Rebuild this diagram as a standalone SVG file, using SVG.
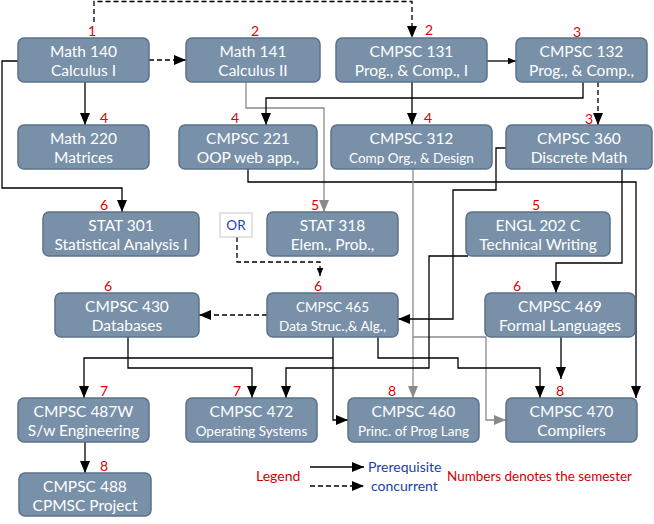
<svg xmlns="http://www.w3.org/2000/svg" width="654" height="524" viewBox="0 0 654 524">
<defs>
<style>
.n rect{fill:#7890a8;stroke:#5b7189;stroke-width:1.5}
.n text{font-family:Lato,"Open Sans",sans-serif;fill:#fff;text-anchor:middle}
.n .t1{font-size:15.5px}
.n .t2{font-size:15.5px}
.n .t3{font-size:13.5px}
.n .num{font-family:Lato,"Open Sans",sans-serif;font-size:14px;fill:#e00000;text-anchor:middle}
.c{fill:none;stroke:#000;stroke-width:1.3}
.g{fill:none;stroke:#8a8a8a;stroke-width:1.3}
.d{stroke-dasharray:5,3}
.lg{font-family:Lato,"Open Sans",sans-serif;font-size:14px}
</style>
<marker id="a" viewBox="0 0 12 10" refX="12" refY="5" markerWidth="12" markerHeight="10" markerUnits="userSpaceOnUse" orient="auto"><path d="M0,0 L12,5 L0,10 z" fill="#000"/></marker>
<marker id="ag" viewBox="0 0 12 10" refX="12" refY="5" markerWidth="12" markerHeight="10" markerUnits="userSpaceOnUse" orient="auto"><path d="M0,0 L12,5 L0,10 z" fill="#8a8a8a"/></marker>
<marker id="as" viewBox="0 0 12 10" refX="12" refY="5" markerWidth="8" markerHeight="7" markerUnits="userSpaceOnUse" orient="auto"><path d="M0,0 L12,5 L0,10 z" fill="#000"/></marker>
</defs>
<rect width="654" height="524" fill="#fff"/>

<g id="connectors">
<path class="c d" d="M94,22 V1.5 H412 V38" marker-end="url(#a)"/>
<path class="c d" d="M149,60 H186" marker-end="url(#a)"/>
<path class="c" d="M85,82 V125" marker-end="url(#a)"/>
<path class="c" d="M18,61 H2 V188 H122 V212" marker-end="url(#a)"/>
<path class="g" d="M246,82 V108 H324 V212" marker-end="url(#ag)"/>
<path class="c" d="M412,82 V125" marker-end="url(#a)"/>
<path class="c" d="M487,61 H516" marker-end="url(#as)"/>
<path class="c" d="M583,82 V98 H266 V125" marker-end="url(#a)"/>
<path class="c d" d="M598,82 V125" marker-end="url(#a)"/>
<path class="c" d="M248,169 V182 H636 V398" marker-end="url(#a)"/>
<path class="g" d="M413,169 V398" marker-end="url(#ag)"/>
<path class="g" d="M413,337 H486 V420 H506" marker-end="url(#ag)"/>
<path class="c" d="M506,148 H496 V190 H453 V319 H398" marker-end="url(#a)"/>
<path class="c" d="M622,169 V263 H556 V293" marker-end="url(#a)"/>
<path class="c" d="M468,256 H429 V368 H286 V398" marker-end="url(#a)"/>
<path class="c" d="M128,337 V368 H252 V398" marker-end="url(#a)"/>
<path class="c" d="M333,337 V420 H348" marker-end="url(#a)"/>
<path class="c" d="M333,358 H84 V398" marker-end="url(#a)"/>
<path class="c" d="M378,337 V358 H458 V368 H540 V398" marker-end="url(#a)"/>
<path class="c" d="M561,337 V379" marker-end="url(#a)"/>
<path class="c d" d="M267,315 H199" marker-end="url(#a)"/>
<path class="c d" d="M237,237 V262 H320 V276" marker-end="url(#as)"/>
<path class="c" d="M85,442 V473" marker-end="url(#a)"/>
</g>

<g id="or">
<rect x="220" y="213" width="32" height="24" fill="#fff" stroke="#c8c8c8" stroke-width="1"/>
<text x="236" y="230" font-family="Lato,'Open Sans',sans-serif" font-size="13.5" fill="#1a3fb0" text-anchor="middle">OR</text>
</g>

<g id="math140" class="n"><rect x="18" y="38" width="131" height="44" rx="6"/><text class="t1" x="83.5" y="57">Math 140</text><text class="t2" x="83.5" y="76">Calculus I</text><text class="num" x="92" y="36">1</text></g>
<g id="math141" class="n"><rect x="186" y="38" width="134" height="44" rx="6"/><text class="t1" x="253" y="57">Math 141</text><text class="t2" x="253" y="76">Calculus II</text><text class="num" x="255" y="36">2</text></g>
<g id="cmpsc131" class="n"><rect x="336" y="38" width="151" height="44" rx="6"/><text class="t1" x="411.5" y="57">CMPSC 131</text><text class="t2" x="411.5" y="76">Prog., &amp; Comp., I</text><text class="num" x="429" y="35">2</text></g>
<g id="cmpsc132" class="n"><rect x="516" y="38" width="131" height="44" rx="6"/><text class="t1" x="581.5" y="57">CMPSC 132</text><text class="t2" x="581.5" y="76">Prog., &amp; Comp.,</text><text class="num" x="577" y="37">3</text></g>
<g id="math220" class="n"><rect x="18" y="125" width="131" height="44" rx="6"/><text class="t1" x="83.5" y="144">Math 220</text><text class="t2" x="83.5" y="163">Matrices</text><text class="num" x="104" y="123">4</text></g>
<g id="cmpsc221" class="n"><rect x="179" y="125" width="138" height="44" rx="6"/><text class="t1" x="248" y="144">CMPSC 221</text><text class="t2" x="248" y="163">OOP web app.,</text><text class="num" x="235" y="123">4</text></g>
<g id="cmpsc312" class="n"><rect x="331" y="125" width="161" height="44" rx="6"/><text class="t1" x="411.5" y="144">CMPSC 312</text><text class="t3" x="411.5" y="163">Comp Org., &amp; Design</text><text class="num" x="428" y="123">4</text></g>
<g id="cmpsc360" class="n"><rect x="506" y="125" width="146" height="44" rx="6"/><text class="t1" x="579" y="144">CMPSC 360</text><text class="t2" x="579" y="163">Discrete Math</text><text class="num" x="589" y="124">3</text></g>
<g id="stat301" class="n"><rect x="43" y="212" width="156" height="44" rx="6"/><text class="t1" x="121" y="231">STAT 301</text><text class="t2" x="121" y="250">Statistical Analysis I</text><text class="num" x="104" y="210">6</text></g>
<g id="stat318" class="n"><rect x="267" y="212" width="131" height="44" rx="6"/><text class="t1" x="332.5" y="231">STAT 318</text><text class="t2" x="332.5" y="250">Elem., Prob.,</text><text class="num" x="315" y="210">5</text></g>
<g id="engl202c" class="n"><rect x="466" y="212" width="144" height="44" rx="6"/><text class="t1" x="538" y="231">ENGL 202 C</text><text class="t2" x="538" y="250">Technical Writing</text><text class="num" x="536" y="210">5</text></g>
<g id="cmpsc430" class="n"><rect x="55" y="293" width="144" height="44" rx="6"/><text class="t1" x="127" y="312">CMPSC 430</text><text class="t2" x="127" y="331">Databases</text><text class="num" x="108" y="291">6</text></g>
<g id="cmpsc465" class="n"><rect x="267" y="293" width="131" height="44" rx="6"/><text class="t3" x="332.5" y="312">CMPSC 465</text><text class="t3" x="332.5" y="331">Data Struc.,&amp;  Alg.,</text><text class="num" x="318" y="291">6</text></g>
<g id="cmpsc469" class="n"><rect x="485" y="293" width="150" height="44" rx="6"/><text class="t1" x="560" y="312">CMPSC 469</text><text class="t2" x="560" y="331">Formal Languages</text><text class="num" x="517" y="291">6</text></g>
<g id="cmpsc487w" class="n"><rect x="18" y="398" width="131" height="44" rx="6"/><text class="t1" x="83.5" y="417">CMPSC 487W</text><text class="t2" x="83.5" y="436">S/w Engineering</text><text class="num" x="104" y="396">7</text></g>
<g id="cmpsc472" class="n"><rect x="186" y="398" width="131" height="44" rx="6"/><text class="t1" x="251.5" y="417">CMPSC 472</text><text class="t3" x="251.5" y="436">Operating Systems</text><text class="num" x="237" y="396">7</text></g>
<g id="cmpsc460" class="n"><rect x="348" y="398" width="131" height="44" rx="6"/><text class="t1" x="413.5" y="417">CMPSC 460</text><text class="t3" x="413.5" y="436">Princ. of Prog Lang</text><text class="num" x="392" y="396">8</text></g>
<g id="cmpsc470" class="n"><rect x="506" y="398" width="131" height="44" rx="6"/><text class="t1" x="571.5" y="417">CMPSC 470</text><text class="t2" x="571.5" y="436">Compilers</text><text class="num" x="560" y="396">8</text></g>
<g id="cmpsc488" class="n"><rect x="19" y="473" width="132" height="43" rx="6"/><text class="t1" x="85" y="492">CMPSC 488</text><text class="t2" x="85" y="511">CPMSC Project</text><text class="num" x="104" y="471">8</text></g>

<g id="legend">
<text class="lg" x="256" y="481" fill="#d00000">Legend</text>
<path class="c" d="M310,467 H364" marker-end="url(#a)"/>
<path class="c d" d="M310,486 H364" marker-end="url(#a)"/>
<text class="lg" x="368" y="472" fill="#1a3fb0">Prerequisite</text>
<text class="lg" x="371" y="491" fill="#1a3fb0">concurrent</text>
<text class="lg" x="447" y="481" fill="#d00000" textLength="185" lengthAdjust="spacingAndGlyphs">Numbers denotes the semester</text>
</g>
</svg>
